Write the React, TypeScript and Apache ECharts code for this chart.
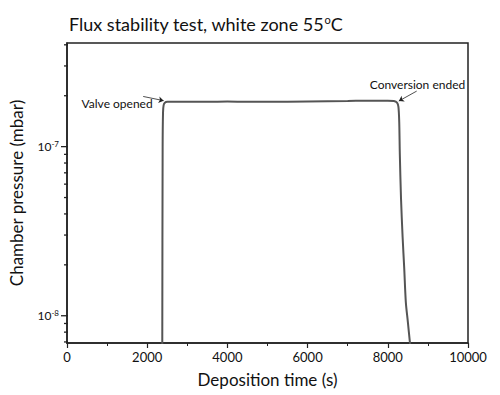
import React, { useEffect, useRef } from "react";
import * as echarts from "echarts";

const titleText = "Flux stability test, white zone 55{sup|o}C";
const xName = "Deposition time (s)";
const yName = "Chamber pressure (mbar)";
const xMin = 0;
const xMax = 10000;
const xInterval = 2000;
const yMin = 6.9e-9;
const yMax = 4.1e-7;
const yMinorTicks = [7e-9, 8e-9, 9e-9, 2e-8, 3e-8, 4e-8, 5e-8, 6e-8, 7e-8, 8e-8, 9e-8, 2e-7, 3e-7, 4e-7];

const timeS = [2375, 2385, 2395, 2410, 2440, 2500, 3000, 3500, 4000, 4500, 5000, 6000, 7000, 7500, 8000, 8150, 8230, 8265, 8285, 8300, 8330, 8370, 8410, 8450, 8500, 8550, 8600];
const pressureMbar = [5e-9, 1.0e-7, 1.6e-7, 1.76e-7, 1.82e-7, 1.84e-7, 1.84e-7, 1.84e-7, 1.85e-7, 1.84e-7, 1.84e-7, 1.85e-7, 1.86e-7, 1.87e-7, 1.87e-7, 1.86e-7, 1.82e-7, 1.72e-7, 1.4e-7, 9e-8, 4.9e-8, 2.9e-8, 1.9e-8, 1.2e-8, 9.2e-9, 7.0e-9, 5.5e-9];

const annotations = [
  { name: "Valve opened", textAt: [1250, 1.8e-7], from: [1900, 1.98e-7], to: [2410, 1.87e-7] },
  { name: "Conversion ended", textAt: [8740, 2.33e-7], from: [8720, 2.13e-7], to: [8275, 1.86e-7] },
];

const FONT = "Lato";

export default function App() {
  const ref = useRef<HTMLDivElement>(null);
  useEffect(() => {
    const chart = echarts.init(ref.current!, null, { renderer: "svg" });
    chart.setOption({
      animation: false,
      backgroundColor: "#fff",
      title: {
        text: titleText,
        left: 64,
        top: 9,
        textStyle: {
          fontFamily: FONT,
          fontWeight: "normal",
          fontSize: 18,
          color: "#111",
          rich: {
            sup: { fontFamily: FONT, fontSize: 11, color: "#111", verticalAlign: "top", padding: [0, 0, 8, 0] },
          },
        },
      },
      grid: { left: 67, right: 32, top: 43, bottom: 52, show: true, borderColor: "#222", borderWidth: 1.5 },
      xAxis: {
        type: "value",
        min: xMin,
        max: xMax,
        interval: xInterval,
        name: xName,
        nameLocation: "middle",
        nameGap: 28,
        nameTextStyle: { fontFamily: FONT, fontSize: 17, color: "#111" },
        axisLine: { show: true, lineStyle: { color: "#222", width: 1.5 } },
        axisTick: { show: true, length: 5, lineStyle: { color: "#222", width: 1.2 } },
        minorTick: { show: true, splitNumber: 2, length: 3, lineStyle: { color: "#222", width: 1 } },
        splitLine: { show: false },
        axisLabel: { fontFamily: FONT, fontSize: 13, color: "#111", margin: 7, formatter: (v: number) => String(v) },
      },
      yAxis: {
        type: "log",
        logBase: 10,
        min: yMin,
        max: yMax,
        name: yName,
        nameLocation: "middle",
        nameGap: 42,
        nameTextStyle: { fontFamily: FONT, fontSize: 17, color: "#111" },
        axisLine: { show: true, lineStyle: { color: "#222", width: 1.5 } },
        axisTick: { show: false },
        splitLine: { show: false },
        axisLabel: {
          fontFamily: FONT,
          fontSize: 12,
          color: "#111",
          margin: 8,
          formatter: (v: number) => {
            const l = Math.log10(v);
            const r = Math.round(l);
            if (Math.abs(l - r) < 1e-6) return `10{sup|${r}}`;
            return "";
          },
          rich: {
            sup: { fontFamily: FONT, fontSize: 8, color: "#111", verticalAlign: "top", padding: [0, 0, 6, 0] },
          },
        },
      },
      series: [
        {
          type: "line",
          data: timeS.map((t, i) => [t, pressureMbar[i]]),
          showSymbol: false,
          smooth: 0.3,
          clip: true,
          lineStyle: { color: "#555", width: 2 },
          markLine: {
            silent: true,
            symbol: ["none", "arrow"],
            symbolSize: 5,
            label: { show: false },
            lineStyle: { color: "#222", width: 0.8, type: "solid" },
            data: annotations.map((a) => [{ coord: a.from }, { coord: a.to }]),
          },
          markPoint: {
            silent: true,
            symbol: "circle",
            symbolSize: 0,
            label: { show: true, position: "inside", formatter: "{b}", fontFamily: FONT, fontSize: 12, color: "#111" },
            data: annotations.map((a) => ({ name: a.name, coord: a.textAt })),
          },
        },
        {
          type: "custom",
          clip: false,
          silent: true,
          data: [...yMinorTicks.map((v) => [xMin, v, 3]), [xMin, 1e-8, 6], [xMin, 1e-7, 6]],
          renderItem: (params: any, api: any) => {
            const p = api.coord([api.value(0), api.value(1)]);
            const len = api.value(2);
            return {
              type: "line",
              shape: { x1: p[0] - len, y1: p[1], x2: p[0] + 1, y2: p[1] },
              style: { stroke: "#222", lineWidth: 1.3 },
            };
          },
        },
      ],
    });
    return () => chart.dispose();
  }, []);
  return <div ref={ref} style={{ width: 500, height: 395, position: "absolute", left: 0, top: 0 }} />;
}
